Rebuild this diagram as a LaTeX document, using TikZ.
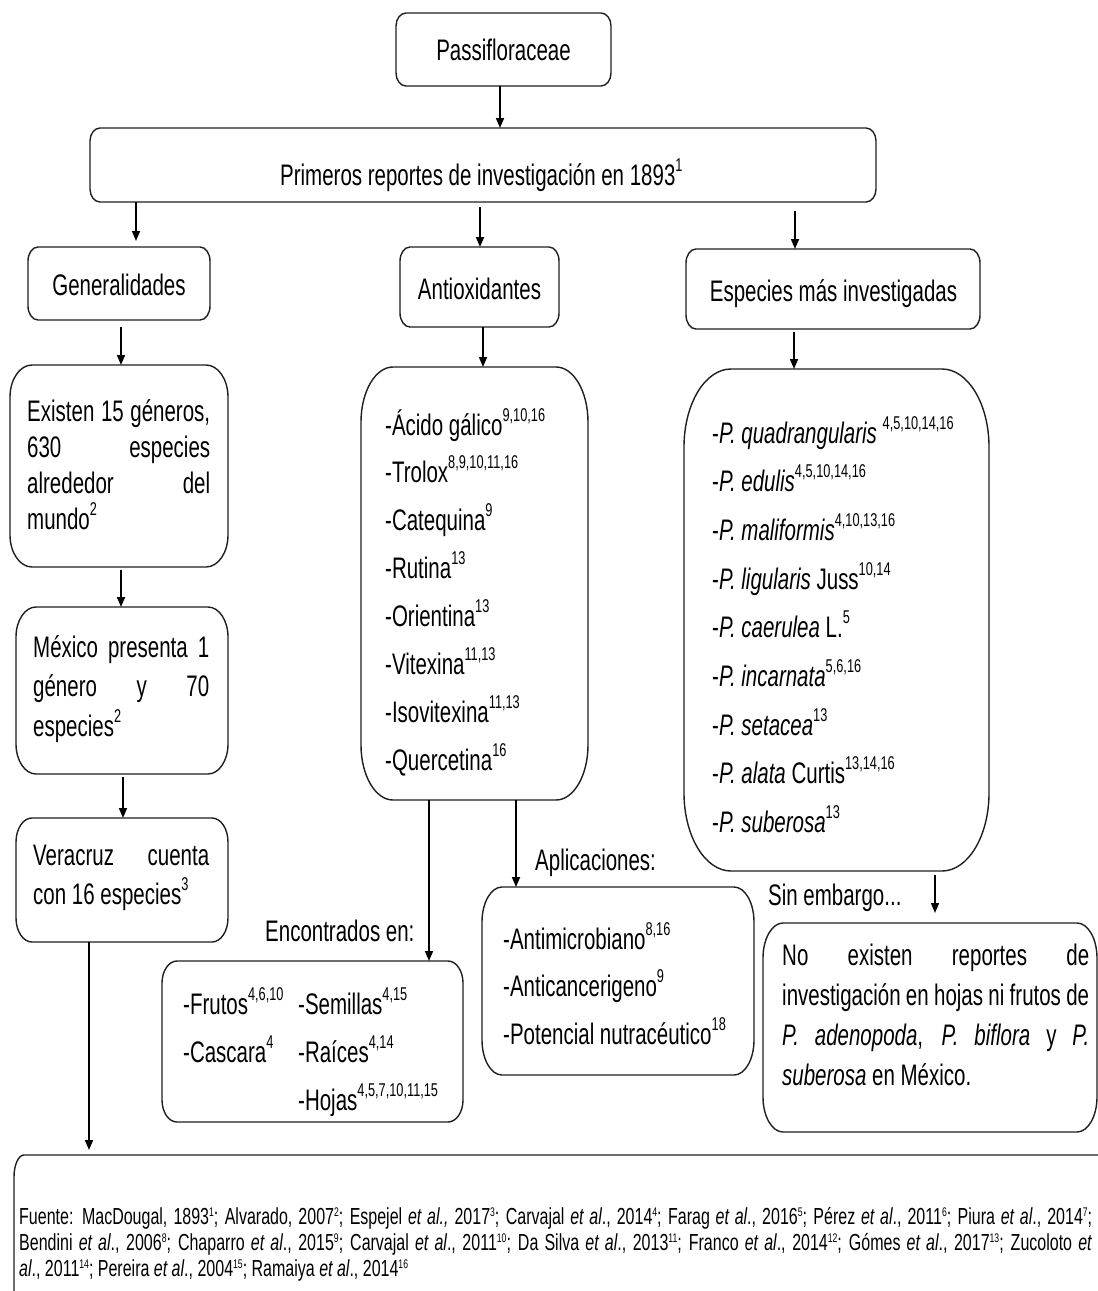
\documentclass[tikz,border=0pt]{standalone}
\usepackage{fontspec}
\setmainfont{Liberation Sans}[FakeStretch=0.69]
\usetikzlibrary{arrows.meta,calc}
\newcommand\sups[1]{\raisebox{14pt}{\fontsize{18.5}{18.5}\selectfont #1}}
\newcommand\fsup[1]{\raisebox{8pt}{\fontsize{12.5}{12.5}\selectfont #1}}
\newcommand\ebox[3]{\draw[boxline] ($(#1.north west)+(#2,0pt)$) -- ($(#1.north east)+(-#2,0pt)$)
  arc[start angle=90,end angle=0,x radius=#2,y radius=#3] -- ($(#1.south east)+(0pt,#3)$)
  arc[start angle=0,end angle=-90,x radius=#2,y radius=#3] -- ($(#1.south west)+(#2,0pt)$)
  arc[start angle=270,end angle=180,x radius=#2,y radius=#3] -- ($(#1.north west)+(0pt,-#3)$)
  arc[start angle=180,end angle=90,x radius=#2,y radius=#3] -- cycle;}
\begin{document}
\begin{tikzpicture}[x=1pt,y=-1pt,font=\fontsize{29.7}{34}\selectfont,
  bx/.style={rectangle,inner sep=0pt,outer sep=0pt},
  txt/.style={inner sep=0pt,anchor=base west},
  ctxt/.style={inner sep=0pt,anchor=base},
  boxline/.style={line width=1.4pt,draw=black!88},
  arr/.style={line width=1.7pt,-{Triangle[length=10pt,width=8pt]}}]
\fill[white] (0,0) rectangle (1098,1291);
\useasboundingbox (0,0) rectangle (1098,1291);
\clip (0,0) rectangle (1098,1291);

% box nodes
\node[bx,minimum width=215pt,minimum height=73pt] (pas) at (503.5,49.5) {};
\node[bx,minimum width=786pt,minimum height=74pt] (prim) at (483,165) {};
\node[bx,minimum width=182pt,minimum height=73pt] (gen) at (119,283.5) {};
\node[bx,minimum width=159pt,minimum height=80pt] (anti) at (479.5,287) {};
\node[bx,minimum width=294pt,minimum height=80pt] (esp) at (833,289) {};
\node[bx,minimum width=218pt,minimum height=202pt] (exis) at (119,466) {};
\node[bx,minimum width=212pt,minimum height=167pt] (mex) at (122,690.5) {};
\node[bx,minimum width=212pt,minimum height=124pt] (ver) at (122,880) {};
\node[bx,minimum width=227pt,minimum height=433pt] (alist) at (474.5,583.5) {};
\node[bx,minimum width=305pt,minimum height=502pt] (slist) at (836.5,620) {};
\node[bx,minimum width=301pt,minimum height=161pt] (enc) at (312.5,1041.5) {};
\node[bx,minimum width=272pt,minimum height=188pt] (apl) at (618,981) {};
\node[bx,minimum width=334pt,minimum height=209pt] (noex) at (930,1027.5) {};
\node[bx,minimum width=1106pt,minimum height=165pt] (fue) at (567,1237.5) {};

\ebox{pas}{10pt}{13pt}
\ebox{prim}{10pt}{13pt}
\ebox{gen}{10pt}{14pt}
\ebox{anti}{10pt}{14pt}
\ebox{esp}{10pt}{14pt}
\ebox{exis}{22pt}{32pt}
\ebox{mex}{20pt}{30pt}
\ebox{ver}{16pt}{24pt}
\ebox{alist}{32pt}{55pt}
\ebox{slist}{47pt}{78pt}
\ebox{enc}{15pt}{22pt}
\ebox{apl}{20pt}{35pt}
\ebox{noex}{20pt}{35pt}
\ebox{fue}{10pt}{22pt}

% texts
\node[ctxt] (tpas) at (503.5,60) {Passifloraceae};
\node[txt] (tprim) at (280,185) {Primeros reportes de investigación en 1893\sups{1}};
\node[ctxt] (tgen) at (119,295) {Generalidades};
\node[ctxt] (tanti) at (479.5,299) {Antioxidantes};
\node[ctxt] (tesp) at (833.5,301) {Especies más investigadas};
\node[txt] (texis) at (27,421) {\parbox[t]{183pt}{\fontsize{29.7}{36}\selectfont Existen 15 géneros,\linebreak 630 especies\linebreak alrededor del\linebreak mundo\sups{2}}};
\node[txt] (tmex) at (33,657) {\parbox[t]{176pt}{\fontsize{29.7}{39.5}\selectfont México presenta 1\linebreak género y 70\linebreak especies\sups{2}}};
\node[txt] (tver) at (33,865) {\parbox[t]{176pt}{\fontsize{29.7}{39}\selectfont Veracruz cuenta\linebreak con 16 especies\sups{3}}};
\node[txt] (talist) at (385,435) {\parbox[t]{200pt}{\fontsize{29.7}{47.9}\selectfont -Ácido gálico\sups{9,10,16}\\-Trolox\sups{8,9,10,11,16}\\-Catequina\sups{9}\\-Rutina\sups{13}\\-Orientina\sups{13}\\-Vitexina\sups{11,13}\\-Isovitexina\sups{11,13}\\-Quercetina\sups{16}}};
\node[txt] (tslist) at (712,443) {\parbox[t]{270pt}{\fontsize{29.7}{48.7}\selectfont -\textit{P. quadrangularis} \sups{4,5,10,14,16}\\-\textit{P. edulis}\sups{4,5,10,14,16}\\-\textit{P. maliformis}\sups{4,10,13,16}\\-\textit{P. ligularis} Juss\sups{10,14}\\-\textit{P. caerulea} L.\sups{5}\\-\textit{P. incarnata}\sups{5,6,16}\\-\textit{P. setacea}\sups{13}\\-\textit{P. alata} Curtis\sups{13,14,16}\\-\textit{P. suberosa}\sups{13}}};
\node[txt] (tencl) at (265,941) {Encontrados en:};
\node[txt] (tenc1) at (183,1014) {\parbox[t]{110pt}{\fontsize{29.7}{48}\selectfont -Frutos\sups{4,6,10}\\-Cascara\sups{4}}};
\node[txt] (tenc2) at (298,1014) {\parbox[t]{160pt}{\fontsize{29.7}{48}\selectfont -Semillas\sups{4,15}\\-Raíces\sups{4,14}\\-Hojas\sups{4,5,7,10,11,15}}};
\node[txt] (tapll) at (535,870) {Aplicaciones:};
\node[txt] (tapl) at (503,949) {\parbox[t]{245pt}{\fontsize{29.7}{47.5}\selectfont -Antimicrobiano\sups{8,16}\\-Anticancerigeno\sups{9}\\-Potencial nutracéutico\sups{18}}};
\node[txt] (tsin) at (768,905) {Sin embargo...};
\node[txt] (tnoex) at (782,965) {\parbox[t]{307pt}{\fontsize{29.7}{40}\selectfont No existen reportes de\linebreak investigación en hojas ni frutos de\linebreak \textit{P. adenopoda}, \textit{P. biflora} y \textit{P.}\linebreak \textit{suberosa} en México.}};
\node[txt] (tfue) at (19,1224) {\parbox[t]{1073pt}{\fontsize{23.2}{26}\selectfont Fuente: MacDougal, 1893\fsup{1}; Alvarado, 2007\fsup{2}; Espejel \textit{et al.,} 2017\fsup{3}; Carvajal \textit{et al}., 2014\fsup{4}; Farag \textit{et al}., 2016\fsup{5}; Pérez \textit{et al}., 2011\fsup{6}; Piura \textit{et al}., 2014\fsup{7};\linebreak Bendini \textit{et al}., 2006\fsup{8}; Chaparro \textit{et al}., 2015\fsup{9}; Carvajal \textit{et al}., 2011\fsup{10}; Da Silva \textit{et al}., 2013\fsup{11}; Franco \textit{et al}., 2014\fsup{12}; Gómes \textit{et al}., 2017\fsup{13}; Zucoloto \textit{et}\linebreak \textit{al}., 2011\fsup{14}; Pereira \textit{et al}., 2004\fsup{15}; Ramaiya \textit{et al}., 2014\fsup{16}}};

% connector x positions
\coordinate (xa) at (500,0);
\coordinate (xb) at (136,0);
\coordinate (xc) at (480,0);
\coordinate (xd) at (795,0);
\coordinate (xe) at (121,0);
\coordinate (xf) at (483,0);
\coordinate (xg) at (794,0);
\coordinate (xh) at (123,0);
\coordinate (xi) at (89,0);
\coordinate (xj) at (429,0);
\coordinate (xk) at (516,0);
\coordinate (xl) at (935,0);

\draw[arr] (pas.south -| xa) -- (prim.north -| xa);
\draw[arr,shorten >=6pt] (prim.south -| xb) -- (gen.north -| xb);
\draw[arr,shorten <=5pt] (prim.south -| xc) -- (anti.north -| xc);
\draw[arr,shorten <=9pt] (prim.south -| xd) -- (esp.north -| xd);
\draw[arr,shorten <=7pt] (gen.south -| xe) -- (exis.north -| xe);
\draw[arr] (anti.south -| xf) -- (alist.north -| xf);
\draw[arr,shorten <=3pt] (esp.south -| xg) -- (slist.north -| xg);
\draw[arr,shorten <=3pt] (exis.south -| xe) -- (mex.north -| xe);
\draw[arr,shorten <=3pt] (mex.south -| xh) -- (ver.north -| xh);
\draw[arr,shorten >=5pt] (ver.south -| xi) -- (fue.north -| xi);
\draw[arr] (alist.south -| xj) -- (enc.north -| xj);
\draw[arr] (alist.south -| xk) -- (apl.north -| xk);
\draw[arr,shorten <=4pt,shorten >=10pt] (slist.south -| xl) -- (noex.north -| xl);
\end{tikzpicture}
\end{document}
